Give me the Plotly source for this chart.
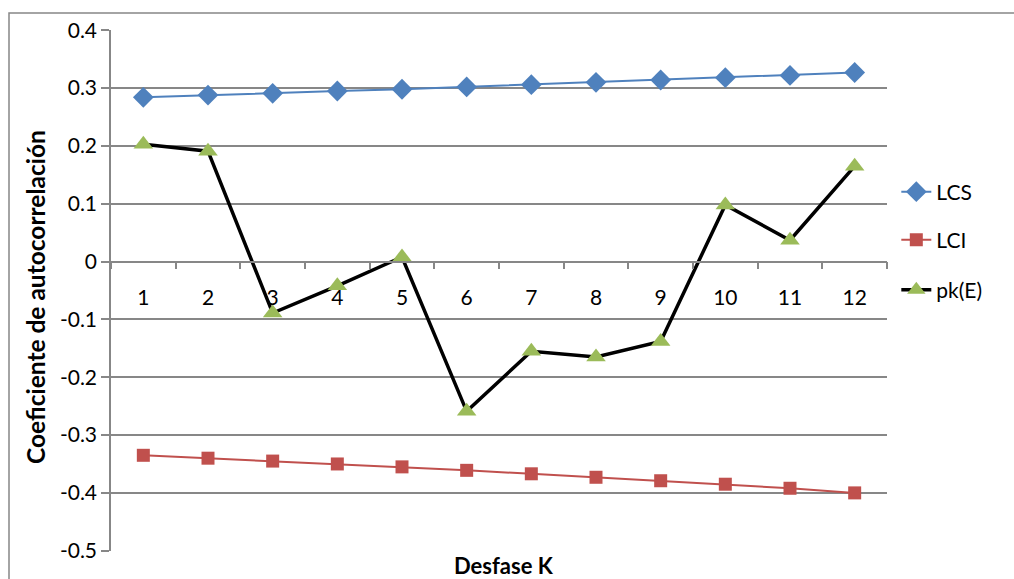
import plotly.graph_objects as go

lags = [str(i) for i in range(1, 13)]
lcs = [0.284, 0.288, 0.291, 0.295, 0.298, 0.302, 0.306, 0.310, 0.314, 0.318, 0.322, 0.327]
lci = [-0.335, -0.340, -0.345, -0.350, -0.355, -0.361, -0.367, -0.373, -0.379, -0.385, -0.392, -0.400]
pk = [0.203, 0.191, -0.089, -0.042, 0.008, -0.259, -0.155, -0.165, -0.138, 0.098, 0.037, 0.165]
y_ticks = [0.4, 0.3, 0.2, 0.1, 0, -0.1, -0.2, -0.3, -0.4, -0.5]
y_labels = ["0.4", "0.3", "0.2", "0.1", "0", "-0.1", "-0.2", "-0.3", "-0.4", "-0.5"]

FONT = "Lato, 'Open Sans', sans-serif"
GRID = "#878787"

fig = go.Figure()
fig.add_trace(go.Scatter(x=lags, y=lcs, name="LCS", mode="lines+markers",
                         line=dict(color="#4F81BD", width=2),
                         marker=dict(symbol="diamond", size=16, color="#4F81BD"),
                         legend="legend"))
fig.add_trace(go.Scatter(x=lags, y=lci, name="LCI", mode="lines+markers",
                         line=dict(color="#C0504D", width=2),
                         marker=dict(symbol="square", size=13, color="#C0504D"),
                         legend="legend2"))
fig.add_trace(go.Scatter(x=lags, y=pk, name="pk(E)", mode="lines+markers",
                         line=dict(color="#000000", width=3.5),
                         marker=dict(symbol="triangle-up", size=17, color="#9BBB59"),
                         legend="legend3"))

leg_common = dict(font=dict(family=FONT, size=21, color="#000"), bgcolor="rgba(0,0,0,0)",
                  xanchor="left", yanchor="middle", x=1.012)
plot_top, plot_bot = 30, 551
H = plot_bot - plot_top
def py(pix):
    return (plot_bot - pix) / H

fig.update_layout(
    width=1014, height=579,
    margin=dict(l=111, r=127, t=30, b=28),
    paper_bgcolor="white", plot_bgcolor="white",
    font=dict(family=FONT, size=21, color="#000"),
    showlegend=True,
    legend=dict(**leg_common, y=py(192)),
    legend2=dict(**leg_common, y=py(240)),
    legend3=dict(**leg_common, y=py(290)),
    xaxis=dict(type="category", tickson="boundaries", anchor="free", position=5/9,
               showline=True, linecolor=GRID, linewidth=1.5, ticks="outside",
               ticklen=7, tickcolor=GRID, tickwidth=1.5, showgrid=False,
               tickfont=dict(size=21), zeroline=False, automargin=False,
               ticklabelstandoff=17, range=[-0.5, 11.5]),
    yaxis=dict(range=[-0.5005, 0.4005], tickvals=y_ticks, ticktext=y_labels,
               showgrid=True, gridcolor=GRID, gridwidth=1.5,
               showline=True, linecolor=GRID, linewidth=1.5,
               ticks="outside", ticklen=8, tickcolor=GRID, tickwidth=1.5,
               zeroline=False, tickfont=dict(size=21), automargin=False),
    annotations=[
        dict(text="<b>Desfase K</b>", xref="paper", yref="paper",
             x=(504 - 111) / 776, y=py(565), showarrow=False,
             font=dict(size=22), xanchor="center", yanchor="middle"),
        dict(text="<b>Coeficiente de autocorrelación</b>", xref="paper", yref="paper",
             x=(35 - 111) / 776, y=py(297), showarrow=False, textangle=-90,
             font=dict(size=24.5), xanchor="center", yanchor="middle"),
    ],
    shapes=[
        dict(type="rect", xref="paper", yref="paper",
             x0=(9 - 111) / 776, x1=1.3, y0=-0.2, y1=py(13),
             line=dict(color=GRID, width=1.5), layer="below"),
    ],
)

fig.write_html("out.html", config={"displayModeBar": False},
               post_script="document.body.style.margin='0';document.body.style.overflow='hidden';")
